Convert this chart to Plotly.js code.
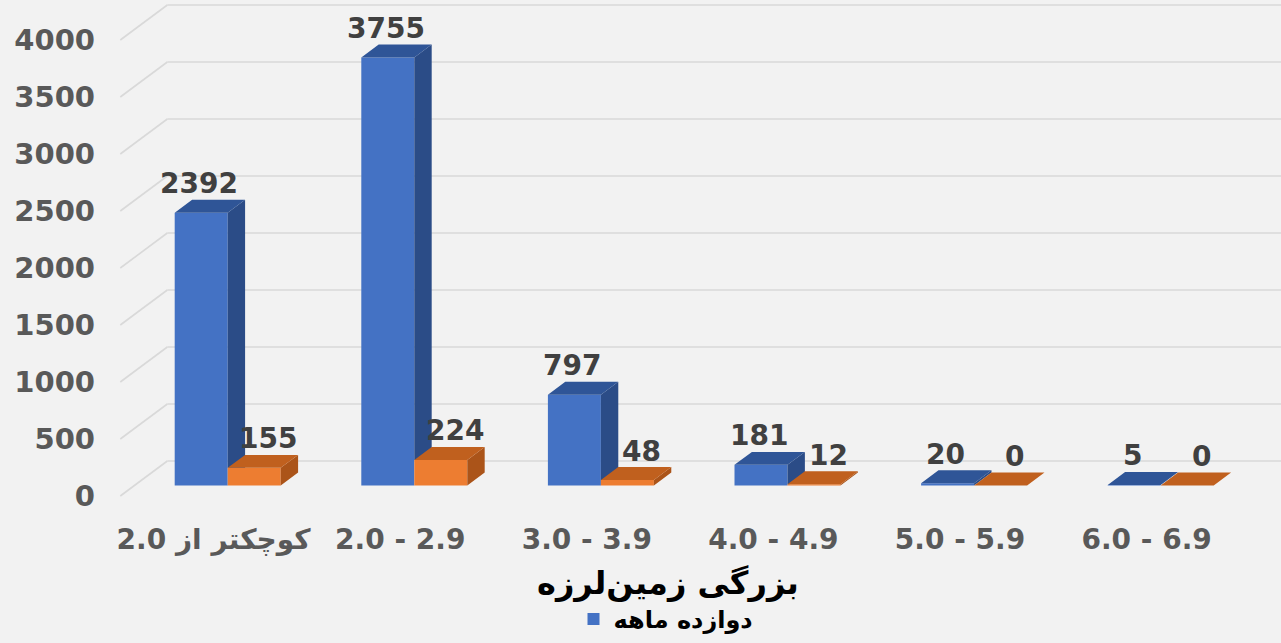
<!DOCTYPE html>
<html>
<head>
<meta charset="utf-8">
<script src="https://cdn.plot.ly/plotly-3.0.1.min.js"></script>
<style>
  html, body { margin: 0; padding: 0; background: #f2f2f2; }
  #chart { width: 1281px; height: 643px; }
</style>
</head>
<body>
<div id="chart"></div>
<script>
// ---------------- data ----------------
const categories = ["کوچکتر از 2.0", "2.0 - 2.9", "3.0 - 3.9", "4.0 - 4.9", "5.0 - 5.9", "6.0 - 6.9"];
const twelveMonths = [2392, 3755, 797, 181, 20, 5];
const secondSeries = [155, 224, 48, 12, 0, 0];
const seriesNames = ["دوازده ماهه", "سه ماهه"];
const yTicks = [0, 500, 1000, 1500, 2000, 2500, 3000, 3500, 4000];
const xTitle = "بزرگی زمین‌لرزه";

// ---------------- layout constants (pixels) ----------------
const W = 1281, H = 643;
const ML = 96, MT = 0, MB = 123;
const plotW = W - ML, plotH = H - MT - MB;
const pxPerCat = 186.6, cat0Px = 227.7;     // horizontal scale
const pxPerUnit = 0.114, basePx = 485.5;    // vertical scale (bar front plane)
const wallDepthPx = [47, 35];               // depth of the 3D box, in px
const frontFrac = 0.30, barDepthFrac = 0.37;

const xRange = [(ML - cat0Px) / pxPerCat, (W - cat0Px) / pxPerCat];
const yRange = [(basePx - (MT + plotH)) / pxPerUnit, (basePx - MT) / pxPerUnit];

// depth vectors converted to data units
const DX = wallDepthPx[0] / pxPerCat, DY = wallDepthPx[1] / pxPerUnit;
const bdx = barDepthFrac * DX, bdy = barDepthFrac * DY;
const barW = 53 / pxPerCat;

const colors = {
  blueFront: "#4472c4", blueTop: "#2f5597", blueSide: "#2b4c87",
  orangeFront: "#ed7d31", orangeTop: "#c0601e", orangeSide: "#ab5419",
  grid: "#d9d9d9", axisText: "#595959", labelText: "#404040"
};

const xs = categories.map((c, i) => i);

// ---------------- faces ----------------
function polyTrace(px, py, color) {
  return {
    type: "scatter", mode: "lines", x: px, y: py, fill: "toself",
    fillcolor: color, line: { width: 0, color: color },
    hoverinfo: "skip", showlegend: false
  };
}
function sideFaces(xRight, vals, clipVals) {
  const px = [], py = [];
  vals.forEach((v, i) => {
    const xr = xRight[i];
    const c = clipVals ? clipVals[i] : 0;
    if (c <= 0) {
      px.push(xr, xr + bdx, xr + bdx, xr, xr, null);
      py.push(0, bdy, v + bdy, v, 0, null);
    } else if (c < v) {
      if (c < bdy) {
        px.push(xr, xr + bdx * c / bdy, xr + bdx, xr + bdx, xr, xr, null);
        py.push(c, c, bdy, v + bdy, v, c, null);
      } else {
        px.push(xr, xr + bdx, xr + bdx, xr, xr, null);
        py.push(c, c, v + bdy, v, c, null);
      }
    } else if (c < v + bdy) {
      const xt = xr + bdx * (c - v) / bdy;
      px.push(xt, xr + bdx, xr + bdx, xt, null);
      py.push(c, c, v + bdy, c, null);
    }
  });
  return [px, py];
}
function topFaces(xLeft, vals) {
  const px = [], py = [];
  vals.forEach((v, i) => {
    const xl = xLeft[i], xr = xl + barW;
    px.push(xl, xr, xr + bdx, xl + bdx, xl, null);
    py.push(v, v, v + bdy, v + bdy, v, null);
  });
  return [px, py];
}

const blueLeft = xs.map(x => x - barW), blueRight = xs.map(x => x);
const orangeLeft = xs.map(x => x), orangeRight = xs.map(x => x + barW);

const bSide = sideFaces(blueRight, twelveMonths, secondSeries);
const bTop = topFaces(blueLeft, twelveMonths);
const oSide = sideFaces(orangeRight, secondSeries, null);
const oTop = topFaces(orangeLeft, secondSeries);

const traces = [
  {
    type: "bar", name: seriesNames[0], x: xs, y: twelveMonths,
    width: barW, offset: -barW,
    marker: { color: colors.blueFront, line: { width: 0 } },
    showlegend: true, hoverinfo: "y"
  },
  {
    type: "bar", name: seriesNames[1], x: xs, y: secondSeries,
    width: barW, offset: 0,
    marker: { color: colors.orangeFront, line: { width: 0 } },
    showlegend: false, hoverinfo: "y"
  },
  polyTrace(bSide[0], bSide[1], colors.blueSide),
  polyTrace(bTop[0], bTop[1], colors.blueTop),
  polyTrace(oSide[0], oSide[1], colors.orangeSide),
  polyTrace(oTop[0], oTop[1], colors.orangeTop)
];

// ---------------- gridlines (front wall diagonal + back wall) ----------------
const xFrontWall = -0.5 - frontFrac * DX;
const xBackWall = -0.5 + (1 - frontFrac) * DX;
const shapes = [];
yTicks.forEach(t => {
  const yf = t - frontFrac * DY, yb = t + (1 - frontFrac) * DY;
  shapes.push({ type: "line", layer: "below", xref: "x", yref: "y",
    x0: xFrontWall, y0: yf, x1: xBackWall, y1: yb,
    line: { color: colors.grid, width: 1.6 } });
  shapes.push({ type: "line", layer: "below", xref: "x", yref: "y",
    x0: xBackWall, y0: yb, x1: xRange[1], y1: yb,
    line: { color: colors.grid, width: 1.6 } });
});

// ---------------- data labels ----------------
const labelFont = { family: "DejaVu Sans", size: 28, weight: "bold", color: colors.labelText };
const annotations = [];
twelveMonths.forEach((v, i) => {
  annotations.push({ x: xs[i] - barW / 2, y: v, xref: "x", yref: "y", text: String(v),
    showarrow: false, yshift: 29, xshift: -2, font: labelFont, xanchor: "center", yanchor: "middle" });
});
secondSeries.forEach((v, i) => {
  annotations.push({ x: xs[i] + barW / 2, y: v, xref: "x", yref: "y", text: String(v),
    showarrow: false, yshift: 29, xshift: 14, font: labelFont, xanchor: "center", yanchor: "middle" });
});
// axis title (placed as annotation to match horizontal position)
annotations.push({
  xref: "paper", yref: "paper", x: (668 - ML) / plotW, y: -(583 - (MT + plotH)) / plotH,
  text: xTitle, showarrow: false, xanchor: "center", yanchor: "middle",
  font: { family: "DejaVu Sans", size: 32, weight: "bold", color: "#000000" }
});

const layout = {
  width: W, height: H,
  margin: { l: ML, r: 0, t: MT, b: MB, pad: 0 },
  paper_bgcolor: "#f2f2f2", plot_bgcolor: "#f2f2f2",
  barmode: "overlay",
  showlegend: true,
  legend: {
    orientation: "h", x: (573.5 - ML) / plotW, xanchor: "left",
    y: -(642 - (MT + plotH)) / plotH, yanchor: "bottom",
    bgcolor: "rgba(0,0,0,0)", borderwidth: 0,
    font: { family: "DejaVu Sans", size: 24, weight: "bold", color: "#000000" }
  },
  xaxis: {
    type: "linear", range: xRange, fixedrange: true,
    tickmode: "array",
    tickvals: xs.map(x => x - frontFrac * DX),
    ticktext: categories,
    showgrid: false, zeroline: false, showline: false, ticks: "",
    tickfont: { family: "DejaVu Sans", size: 28, weight: "bold", color: colors.axisText }
  },
  yaxis: {
    range: yRange, fixedrange: true,
    tickmode: "array",
    tickvals: yTicks.map(t => t - frontFrac * DY),
    ticktext: yTicks.map(String),
    showgrid: false, zeroline: false, showline: false, ticks: "",
    tickfont: { family: "DejaVu Sans", size: 29, weight: "bold", color: colors.axisText }
  },
  shapes: shapes,
  annotations: annotations
};

Plotly.newPlot("chart", traces, layout, { displayModeBar: false, staticPlot: true });
</script>
</body>
</html>
